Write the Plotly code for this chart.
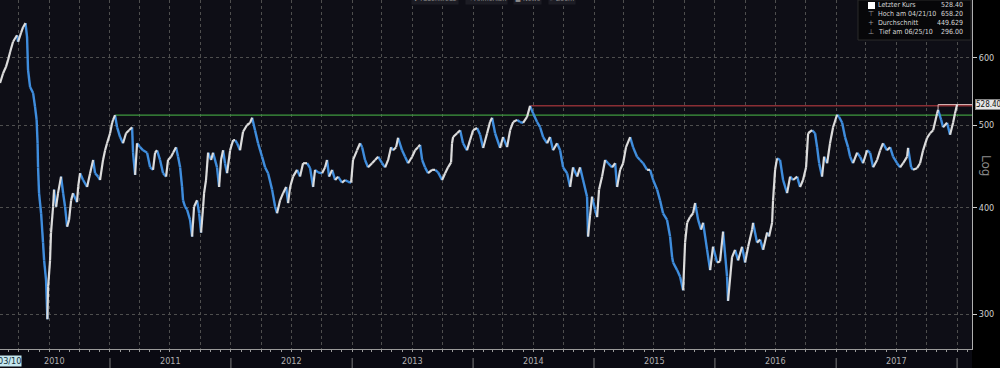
import plotly.graph_objects as go
import pandas as pd
import math

# ---- data ----
# dates as fractional years, closing prices
dates_yr = [
    2010.091, 2010.116, 2010.140, 2010.157, 2010.174, 2010.198, 2010.231, 2010.240, 2010.264, 2010.281,
    2010.301, 2010.314, 2010.322, 2010.339, 2010.364, 2010.380, 2010.393, 2010.401, 2010.405, 2010.413,
    2010.430, 2010.446, 2010.455, 2010.471, 2010.482, 2010.488, 2010.504, 2010.512, 2010.529, 2010.537,
    2010.554, 2010.570, 2010.595, 2010.612, 2010.628, 2010.645, 2010.661, 2010.678, 2010.694, 2010.727,
    2010.736, 2010.752, 2010.777, 2010.810, 2010.835, 2010.860, 2010.876, 2010.901, 2010.917, 2010.942,
    2010.959, 2010.975, 2011.000, 2011.017, 2011.025, 2011.041, 2011.058, 2011.083, 2011.107, 2011.132,
    2011.157, 2011.182, 2011.190, 2011.207, 2011.223, 2011.248, 2011.273, 2011.306, 2011.331, 2011.355,
    2011.372, 2011.388, 2011.413, 2011.438, 2011.463, 2011.479, 2011.504, 2011.521, 2011.545, 2011.562,
    2011.579, 2011.595, 2011.603, 2011.620, 2011.636, 2011.661, 2011.678, 2011.694, 2011.719, 2011.736,
    2011.752, 2011.769, 2011.777, 2011.793, 2011.810, 2011.835, 2011.851, 2011.884, 2011.901, 2011.917,
    2011.934, 2011.950, 2011.967, 2011.992, 2012.017, 2012.033, 2012.050, 2012.074, 2012.099, 2012.132,
    2012.157, 2012.174, 2012.198, 2012.223, 2012.256, 2012.281, 2012.306, 2012.339, 2012.364, 2012.380,
    2012.405, 2012.430, 2012.455, 2012.471, 2012.488, 2012.512, 2012.545, 2012.570, 2012.595, 2012.628,
    2012.653, 2012.678, 2012.694, 2012.719, 2012.752, 2012.777, 2012.793, 2012.810, 2012.835, 2012.860,
    2012.884, 2012.917, 2012.942, 2012.967, 2012.992, 2013.008, 2013.041, 2013.066, 2013.083, 2013.107,
    2013.132, 2013.165, 2013.190, 2013.215, 2013.248, 2013.273, 2013.298, 2013.322, 2013.339, 2013.364,
    2013.380, 2013.413, 2013.438, 2013.463, 2013.496, 2013.521, 2013.545, 2013.562, 2013.579, 2013.603,
    2013.628, 2013.661, 2013.686, 2013.711, 2013.744, 2013.769, 2013.793, 2013.818, 2013.826, 2013.835,
    2013.868, 2013.893, 2013.917, 2013.950, 2013.975, 2014.000, 2014.033, 2014.058, 2014.083, 2014.116,
    2014.140, 2014.157, 2014.182, 2014.223, 2014.248, 2014.281, 2014.306, 2014.331, 2014.364, 2014.388,
    2014.413, 2014.446, 2014.471, 2014.496, 2014.529, 2014.554, 2014.579, 2014.612, 2014.636, 2014.661,
    2014.694, 2014.719, 2014.744, 2014.777, 2014.802, 2014.826, 2014.860, 2014.884, 2014.909, 2014.942,
    2014.950, 2014.967, 2014.983, 2015.008, 2015.025, 2015.041, 2015.066, 2015.091, 2015.116, 2015.149,
    2015.174, 2015.190, 2015.215, 2015.240, 2015.264, 2015.298, 2015.322, 2015.355, 2015.380, 2015.405,
    2015.438, 2015.463, 2015.488, 2015.521, 2015.545, 2015.570, 2015.603, 2015.628, 2015.645, 2015.653,
    2015.686, 2015.711, 2015.736, 2015.752, 2015.769, 2015.793, 2015.818, 2015.835, 2015.860, 2015.884,
    2015.901, 2015.934, 2015.959, 2015.983, 2016.017, 2016.041, 2016.066, 2016.099, 2016.107, 2016.140,
    2016.165, 2016.190, 2016.223, 2016.248, 2016.273, 2016.306, 2016.314, 2016.347, 2016.372, 2016.397,
    2016.430, 2016.446, 2016.471, 2016.479, 2016.496, 2016.512, 2016.537, 2016.562, 2016.595, 2016.620,
    2016.645, 2016.678, 2016.702, 2016.727, 2016.752, 2016.769, 2016.802, 2016.826, 2016.843, 2016.860,
    2016.884, 2016.901, 2016.926, 2016.950, 2016.975, 2017.008, 2017.025, 2017.050, 2017.074, 2017.099,
    2017.116, 2017.140, 2017.174, 2017.198, 2017.223, 2017.256, 2017.281, 2017.306, 2017.339, 2017.364,
    2017.388, 2017.421, 2017.446, 2017.471, 2017.504, 2017.529, 2017.554, 2017.587, 2017.595, 2017.620,
    2017.636, 2017.669, 2017.694, 2017.719, 2017.752, 2017.777, 2017.802, 2017.835, 2017.843, 2017.868,
    2017.884, 2017.917, 2017.942, 2017.967, 2017.983, 2018.000,
]
close = [
    560, 575, 585, 596, 609, 626, 637, 626, 641, 651,
    658.2, 634, 580, 554, 545, 525, 507, 476, 446, 416,
    394, 364, 347, 329, 296, 323, 347, 374, 401, 420,
    401, 416, 435, 416, 401, 380, 387, 408, 416, 406,
    423, 439, 431, 423, 439, 455, 439, 435, 431, 455,
    467, 476, 489, 503, 507, 513.5, 497, 484, 476, 489,
    493, 497, 464, 437, 476, 471, 467, 464, 446, 443,
    464, 467, 455, 439, 435, 455, 459, 464, 471, 459,
    446, 423, 408, 401, 398, 387, 370, 401, 408, 394,
    374, 401, 416, 431, 464, 455, 464, 446, 423, 455,
    467, 451, 439, 467, 480, 480, 476, 467, 491, 500,
    503, 510, 493, 476, 459, 446, 439, 420, 401, 394,
    408, 416, 423, 405, 423, 435, 443, 435, 451, 451,
    445, 423, 443, 440, 439, 446, 455, 435, 443, 431,
    435, 428, 431, 429, 428, 455, 467, 476, 471, 455,
    446, 451, 455, 459, 451, 446, 455, 471, 467, 471,
    483, 467, 459, 451, 459, 467, 471, 474, 455, 446,
    439, 443, 443, 440, 431, 439, 446, 452, 476, 484,
    489, 493, 476, 467, 480, 493, 496, 487, 470, 489,
    504, 510, 489, 470, 484, 471, 493, 504, 507, 504,
    503, 511, 526.5, 516, 504, 497, 484, 476, 484, 467,
    476, 467, 446, 439, 423, 446, 435, 446, 431, 412,
    370, 392, 412, 398, 390, 420, 435, 455, 451, 446,
    451, 423, 443, 451, 471, 484, 471, 459, 455, 451,
    443, 443, 431, 420, 408, 394, 387, 370, 350, 345,
    338, 332, 320, 364, 384, 390, 394, 405, 387, 377,
    384, 357, 338, 360, 345, 346, 375, 332, 311, 350,
    357, 347, 360, 345, 360, 377, 384, 364, 367, 357,
    374, 370, 384, 408, 443, 457, 455, 431, 416, 435,
    431, 435, 423, 431, 446, 489, 493, 489, 471, 451,
    435, 459, 451, 476, 497, 514, 511, 503, 484, 471,
    459, 451, 464, 459, 451, 467, 464, 446, 455, 467,
    476, 467, 471, 459, 451, 446, 451, 459, 470, 446,
    443, 445, 451, 467, 483, 489, 493, 516, 521, 507,
    497, 503, 487, 503, 516, 528.4,
]

year_labels = ["2010", "2011", "2012", "2013", "2014", "2015", "2016", "2017"]
y_tick_vals = [300, 400, 500, 600]
legend_labels = ["Letzter Kurs", "Hoch am 04/21/10", "Durchschnitt", "Tief am 06/25/10"]
legend_values = ["528.40", "658.20", "449.629", "296.00"]
toolbar_items = ["\u271a Fadenkreuz", "\u270e Anmerken", "\u25a0 News", "\u2315 Zoom"]

# ---- helpers ----
def yr_to_ts(y):
    return pd.Timestamp("2010-01-01") + pd.to_timedelta((y - 2010.0) * 365.25, unit="D")

dates = [yr_to_ts(y) for y in dates_yr]
x_start = pd.Timestamp("2010-02-03")
x_end = pd.Timestamp("2018-02-15")

# split into up (white) and down (blue) segments
ux, uy, bx, by = [], [], [], []
for i in range(1, len(close)):
    if close[i] >= close[i - 1]:
        ux += [dates[i - 1], dates[i], None]
        uy += [close[i - 1], close[i], None]
    else:
        bx += [dates[i - 1], dates[i], None]
        by += [close[i - 1], close[i], None]

fig = go.Figure()

# resistance lines
i_2011 = close.index(513.5)
i_2014 = close.index(526.5)
fig.add_trace(go.Scatter(x=[dates[i_2011], x_end], y=[close[i_2011], close[i_2011]],
                         mode="lines", line=dict(color="#3f9a3f", width=1.2), hoverinfo="skip"))
fig.add_trace(go.Scatter(x=[dates[i_2014], x_end], y=[close[i_2014], close[i_2014]],
                         mode="lines", line=dict(color="#8a2e34", width=1.5), hoverinfo="skip"))
i_pk = close.index(521)
fig.add_trace(go.Scatter(x=[dates[i_pk], dates[i_pk], x_end], y=[close[i_pk], close[-1], close[-1]],
                         mode="lines", line=dict(color="#d9b5b5", width=1), hoverinfo="skip"))

fig.add_trace(go.Scatter(x=bx, y=by, mode="lines", line=dict(color="#3f8ddd", width=2.4),
                         hoverinfo="skip", connectgaps=False))
fig.add_trace(go.Scatter(x=ux, y=uy, mode="lines", line=dict(color="#dcdcdc", width=2.2),
                         hoverinfo="skip", connectgaps=False))

# quarter gridlines
quarters = pd.date_range("2010-04-01", "2018-01-01", freq="QS")

W, H = 1000, 368
ml, mr, mt, mb = 0, 28, 0, 19
pw, ph = W - ml - mr, H - mt - mb

def px(xp):
    return xp / pw

def py(yp):
    return 1 - yp / ph

annotations = []
shapes = []

# bottom strip
shapes.append(dict(type="rect", xref="paper", yref="paper", x0=0, x1=1, y0=-mb / ph, y1=0,
                   fillcolor="#0a0a12", line=dict(width=0), layer="below"))

# year labels and separators
for k, lab in enumerate(year_labels):
    yr = int(lab)
    a = max(pd.Timestamp(f"{yr}-01-01"), x_start)
    b = pd.Timestamp(f"{yr + 1}-01-01")
    mid = a + (b - a) / 2
    annotations.append(dict(x=mid, xref="x", y=-12 / ph, yref="paper", text=lab, showarrow=False,
                            font=dict(size=9, color="#b0b0b0", family="DejaVu Sans Condensed"),
                            yanchor="middle"))
for yr in range(2011, 2019):
    shapes.append(dict(type="line", xref="x", yref="paper", x0=pd.Timestamp(f"{yr}-01-01"),
                       x1=pd.Timestamp(f"{yr}-01-01"), y0=-19 / ph, y1=-9 / ph,
                       line=dict(color="#7a7a7a", width=1)))

# start date box
annotations.append(dict(x=px(22), xref="paper", y=-12 / ph, yref="paper", text="02/03/10",
                        showarrow=False, xanchor="right", yanchor="middle",
                        font=dict(size=9, color="#15303a", family="DejaVu Sans Condensed"),
                        bgcolor="#c4e6ee", borderpad=0))

# last price box
annotations.append(dict(x=1 + 3 / pw, xref="paper", y=math.log10(close[-1]), yref="y",
                        text=legend_values[0], showarrow=False, xanchor="left", yanchor="middle",
                        font=dict(size=8, color="#111111", family="DejaVu Sans Condensed"),
                        bgcolor="#e6e6e6", bordercolor="#888888", borderwidth=1, borderpad=0))

# Log label
annotations.append(dict(x=px(986), xref="paper", y=py(165), yref="paper", text="Log",
                        showarrow=False, textangle=90, xanchor="center", yanchor="middle",
                        font=dict(size=12, color="#8a8a8a", family="DejaVu Sans")))

# legend box
shapes.append(dict(type="rect", xref="paper", yref="paper", x0=px(858), x1=px(971), y0=py(40), y1=py(0),
                   fillcolor="#070709", line=dict(color="#2a2a2a", width=1)))
rows = [5, 14, 23, 32]
icons = ["", "\u22a4", "+", "\u22a5"]
for r, lab, val, ic in zip(rows, legend_labels, legend_values, icons):
    annotations.append(dict(x=px(876), xref="paper", y=py(r), yref="paper", text=lab, showarrow=False,
                            xanchor="left", yanchor="middle",
                            font=dict(size=7, color="#d6d6d6", family="DejaVu Sans Condensed")))
    annotations.append(dict(x=px(965), xref="paper", y=py(r), yref="paper", text=val, showarrow=False,
                            xanchor="right", yanchor="middle",
                            font=dict(size=7, color="#d6d6d6", family="DejaVu Sans Condensed")))
    if ic:
        annotations.append(dict(x=px(871), xref="paper", y=py(r), yref="paper", text=ic, showarrow=False,
                                xanchor="center", yanchor="middle",
                                font=dict(size=7, color="#9a9a9a", family="DejaVu Sans")))
shapes.append(dict(type="rect", xref="paper", yref="paper", x0=px(868), x1=px(875), y0=py(9), y1=py(2),
                   fillcolor="#ffffff", line=dict(width=0)))

# toolbar (cut off at top)
tb_x = [435, 486, 527, 562]
for t, xx in zip(toolbar_items, tb_x):
    annotations.append(dict(x=px(xx), xref="paper", y=1, yref="paper", text=t, showarrow=False,
                            xanchor="center", yanchor="middle", yshift=1,
                            font=dict(size=7, color="#8c8c8c", family="DejaVu Sans Condensed"),
                            bgcolor="#1c1c24"))

fig.update_layout(
    width=W, height=H,
    margin=dict(l=ml, r=mr, t=mt, b=mb),
    paper_bgcolor="#000000",
    plot_bgcolor="#0e0e16",
    showlegend=False,
    xaxis=dict(
        type="date", range=[x_start, x_end],
        tickvals=list(quarters), showticklabels=False, ticks="",
        showgrid=True, gridcolor="#4e4e4e", griddash="dot", gridwidth=1,
        showline=True, linecolor="#9a9a9a", linewidth=1,
        zeroline=False,
        minor=dict(dtick="M1", tick0="2010-01-01", ticks="outside", ticklen=2, tickcolor="#9a9a9a",
                   showgrid=False),
    ),
    yaxis=dict(
        type="log", range=[2.4364, 2.8455], side="right",
        tickvals=y_tick_vals, ticktext=[str(v) for v in y_tick_vals],
        ticks="outside", ticklen=4, tickcolor="#cfcfcf",
        tickfont=dict(size=9, color="#cfcfcf", family="DejaVu Sans Condensed"),
        showgrid=True, gridcolor="#4e4e4e", griddash="dot", gridwidth=1,
        showline=True, linecolor="#b0b0b0", linewidth=1, zeroline=False,
    ),
    annotations=annotations,
    shapes=shapes,
)

fig.write_html("out.html", config={"displayModeBar": False},
               post_script="document.body.style.margin='0';document.body.style.overflow='hidden';")
